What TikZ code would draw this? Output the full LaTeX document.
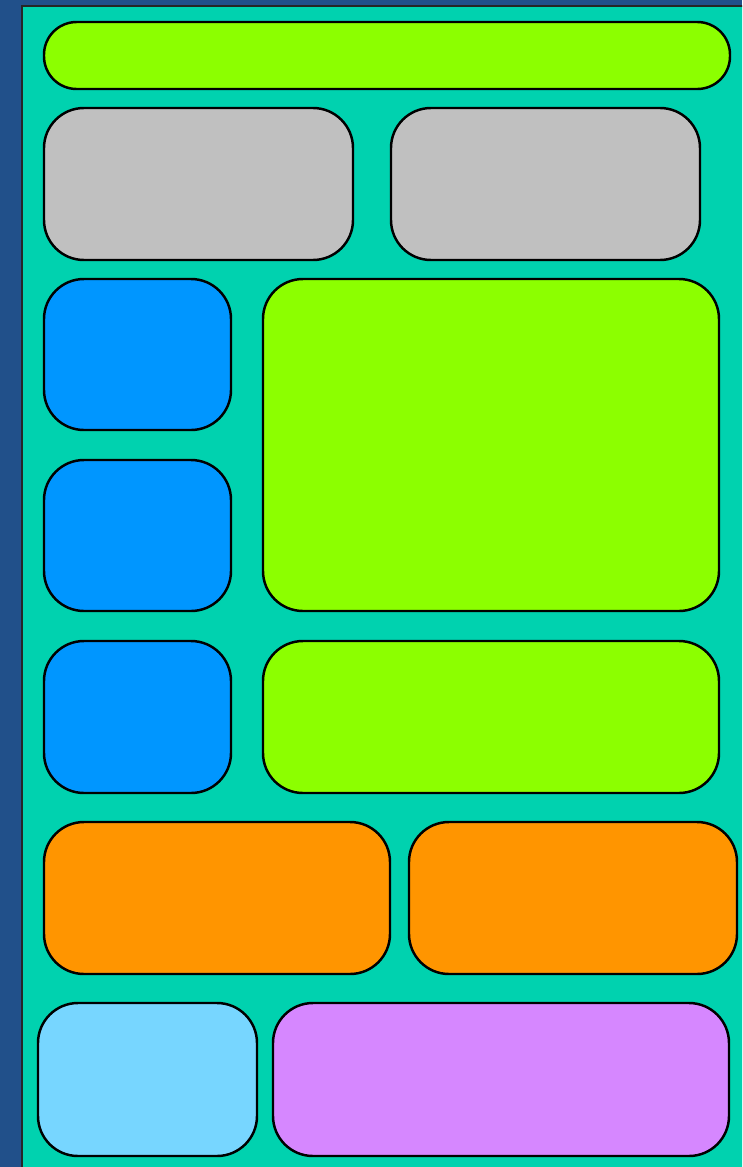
\documentclass[tikz,border=0pt]{standalone}
\usepackage{tikz}
\usetikzlibrary{positioning}
\definecolor{backblue}{HTML}{21508A}
\definecolor{panelteal}{HTML}{00D2AF}
\definecolor{lime}{HTML}{8CFF00}
\definecolor{silver}{HTML}{C0C0C0}
\definecolor{azure}{HTML}{0096FF}
\definecolor{amber}{HTML}{FF9500}
\definecolor{sky}{HTML}{77D6FF}
\definecolor{lilac}{HTML}{D687FF}
\begin{document}
\begin{tikzpicture}[
  x=0.03cm,y=-0.03cm,
  tile/.style={draw=black,line width=2.1pt,rounded corners=1.2cm},
  bar/.style={draw=black,line width=2.1pt,rounded corners=0.98cm}]
  \useasboundingbox (0,0) rectangle (742,1167);
  \clip (0,0) rectangle (742,1167);
  % backdrop and panel
  \fill[backblue] (0,0) rectangle (742,1167);
  \draw[draw=black!85,line width=2pt,fill=panelteal] (22,6) rectangle (780,1200);
  % header
  \draw[bar,fill=lime] (44,22) rectangle (730,89);
  % second row
  \draw[tile,fill=silver] (44,108) rectangle (353,260);
  \draw[tile,fill=silver] (391,108) rectangle (700,260);
  % left column
  \draw[tile,fill=azure] (44,279) rectangle (231,430);
  \draw[tile,fill=azure] (44,460) rectangle (231,611);
  \draw[tile,fill=azure] (44,641) rectangle (231,793);
  % right column
  \draw[tile,fill=lime] (263,279) rectangle (719,611);
  \draw[tile,fill=lime] (263,641) rectangle (719,793);
  % orange row
  \draw[tile,fill=amber] (44,822) rectangle (390,974);
  \draw[tile,fill=amber] (409,822) rectangle (737,974);
  % bottom row
  \draw[tile,fill=sky] (38,1003) rectangle (257,1156);
  \draw[tile,fill=lilac] (273,1003) rectangle (729,1156);
\end{tikzpicture}
\end{document}
